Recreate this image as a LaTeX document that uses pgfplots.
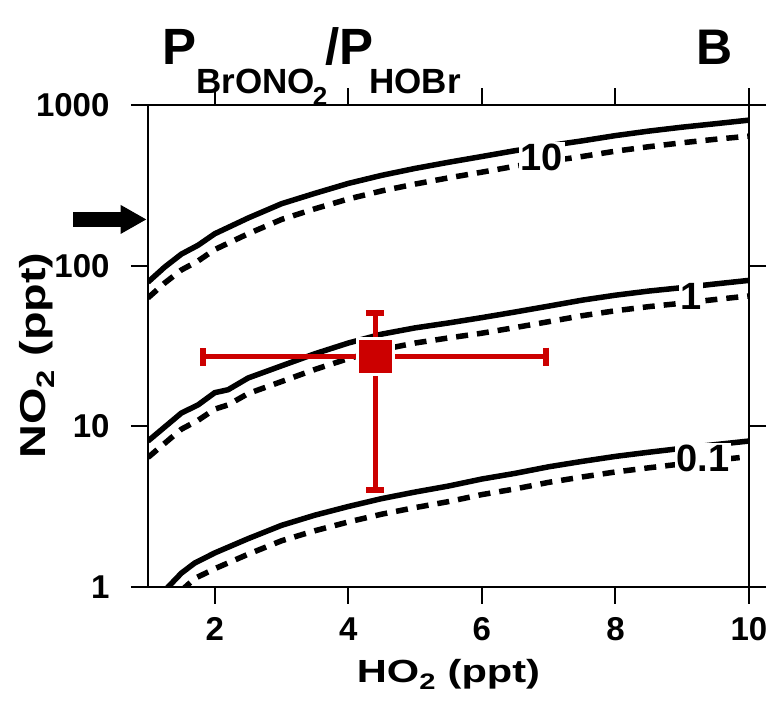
\documentclass[border=0pt]{standalone}
\usepackage{graphicx}
\usepackage{fontspec}
\setmainfont{Liberation Sans}
\usepackage{pgfplots}
\pgfplotsset{compat=1.18}
\usetikzlibrary{arrows.meta}
\definecolor{barred}{HTML}{CC0000}
\newcommand\tickfont{\fontsize{33}{36}\selectfont\bfseries}
\newcommand\curvefont{\fontsize{38}{40}\selectfont\bfseries}
\newcommand\wide[1]{\scalebox{1.3}[1]{#1}}
\begin{document}
\begin{tikzpicture}
\path[use as bounding box] (-148pt,-122pt) rectangle (631pt,587pt);
\begin{axis}[
    at={(0,0)}, anchor=south west,
    scale only axis, width=601pt, height=482pt,
    xmin=1, xmax=10,
    ymode=log, ymin=1, ymax=1000,
    xtick={2,4,6,8,10},
    ytick={1,10,100,1000}, yticklabels={1,10,100,1000},
    minor y tick num=0,
    minor tick style={draw=none},
    tick align=outside, major tick length=17pt,
    tick style={line width=2pt, black},
    axis line style={line width=2pt},
    ticklabel style={font=\tickfont},
    xticklabel style={yshift=-10pt},
    yticklabel style={xshift=-18pt},
    /pgf/number format/assume math mode=true,
    xlabel={\wide{HO\textsubscript{2} (ppt)}},
    ylabel={\wide{NO\textsubscript{2} (ppt)}},
    x label style={font=\fontsize{32}{34}\selectfont\bfseries, at={(axis description cs:0.5,0)}, anchor=base, yshift=-95pt},
    y label style={font=\fontsize{36}{38}\selectfont\bfseries, at={(axis description cs:-0.171,0.48)}, anchor=base},
    clip mode=individual,
    solid/.style={black, line width=5.5pt},
    dash/.style={black, line width=5.5pt, dash pattern=on 12pt off 9pt},
]
% P_BrONO2/P_HOBr = 10
\addplot[solid] coordinates {
    (1.0,79) (1.25,98) (1.5,118) (1.75,134) (2.0,158) (2.5,198) (3.0,243)
    (3.5,282) (4.0,325) (4.5,365) (5.0,403) (5.5,440) (6.0,478) (6.5,520)
    (7.0,558) (7.5,598) (8.0,645) (8.5,688) (9.0,728) (9.5,765) (10,805)
};
\addplot[dash] coordinates {
    (1.0,63) (1.25,78) (1.5,94) (1.75,107) (2.0,126) (2.5,158) (3.0,194)
    (3.5,226) (4.0,260) (4.5,292) (5.0,322) (5.5,352) (6.0,382) (6.5,416)
    (7.0,446) (7.5,478) (8.0,516) (8.5,550) (9.0,582) (9.5,612) (10,640)
};
% = 1
\addplot[solid] coordinates {
    (1.0,8.1) (1.5,12.1) (1.75,13.6) (2.0,16.2) (2.2,16.9) (2.5,20) (3.0,23.8)
    (3.5,28.3) (4.0,33) (4.5,37.5) (5.0,41) (5.5,44) (6.0,47.5) (6.5,51.5)
    (7.0,56) (7.5,61) (8.0,65.5) (8.5,69.5) (9.0,73) (9.5,77) (10,81)
};
\addplot[dash] coordinates {
    (1.0,6.4) (1.5,9.6) (1.75,10.9) (2.0,12.8) (2.2,13.6) (2.5,16) (3.0,19)
    (3.5,22.6) (4.0,26.4) (4.5,30) (5.0,33) (5.5,35.5) (6.0,38) (6.5,41.2)
    (7.0,44.8) (7.5,48.8) (8.0,52.4) (8.5,55.6) (9.0,58.4) (9.5,61.6) (10,64.8)
};
% = 0.1
\addplot[solid] coordinates {
    (1.25,0.95) (1.5,1.22) (1.7,1.41) (2.0,1.63) (2.5,2.0) (3.0,2.42) (3.5,2.8)
    (4.0,3.17) (4.5,3.55) (5.0,3.9) (5.5,4.25) (6.0,4.7) (6.5,5.1) (7.0,5.6)
    (7.5,6.05) (8.0,6.5) (8.5,6.9) (9.0,7.3) (9.5,7.7) (10,8.1)
};
\addplot[dash] coordinates {
    (1.5,0.95) (1.7,1.13) (2.0,1.30) (2.5,1.6) (3.0,1.94) (3.5,2.24) (4.0,2.54)
    (4.5,2.84) (5.0,3.12) (5.5,3.4) (6.0,3.76) (6.5,4.08) (7.0,4.48) (7.5,4.84)
    (8.0,5.2) (8.5,5.52) (9.0,5.84) (9.5,6.16) (10,6.48)
};
\node[fill=white, inner sep=2pt, font=\curvefont] at (axis cs:6.9,474) {10};
\node[fill=white, inner sep=1.5pt, font=\curvefont] at (axis cs:9.13,64) {1};
\node[fill=white, inner sep=1.5pt, font=\curvefont] at (axis cs:9.31,6.35) {0.1};
% measurement with error bars
\addplot[only marks, mark=square*, mark size=18pt,
    mark options={fill=barred, draw=white, line width=3pt},
    error bars/.cd, x dir=both, x explicit, y dir=both, y explicit,
    error bar style={line width=5pt, draw=barred},
    error mark options={rotate=90, line width=6pt, mark size=9pt, draw=barred, fill=barred}]
    coordinates {(4.40,27.2) += (2.56,23.3) -= (2.58,23.2)};
\draw[line width=15pt, -{Triangle[length=26pt,width=27pt]}]
    (axis cs:-0.12,194) -- (axis cs:0.98,194);
\node[anchor=base west, inner sep=0pt] at ([shift={(14pt,40pt)}]rel axis cs:0,1)
    {\bfseries{\fontsize{51}{52}\selectfont P}\raisebox{-29pt}{\fontsize{35}{36}\selectfont BrONO\kern-2pt\raisebox{-12pt}{\fontsize{26}{28}\selectfont 2}}\kern-2pt{\fontsize{51}{52}\selectfont /P}\kern-4pt\raisebox{-29pt}{\fontsize{35}{36}\selectfont HOBr}};
\node[anchor=base east, inner sep=0pt] at ([shift={(-16pt,40pt)}]rel axis cs:1,1)
    {\fontsize{50}{52}\selectfont\bfseries B};
\end{axis}
\end{tikzpicture}
\end{document}
